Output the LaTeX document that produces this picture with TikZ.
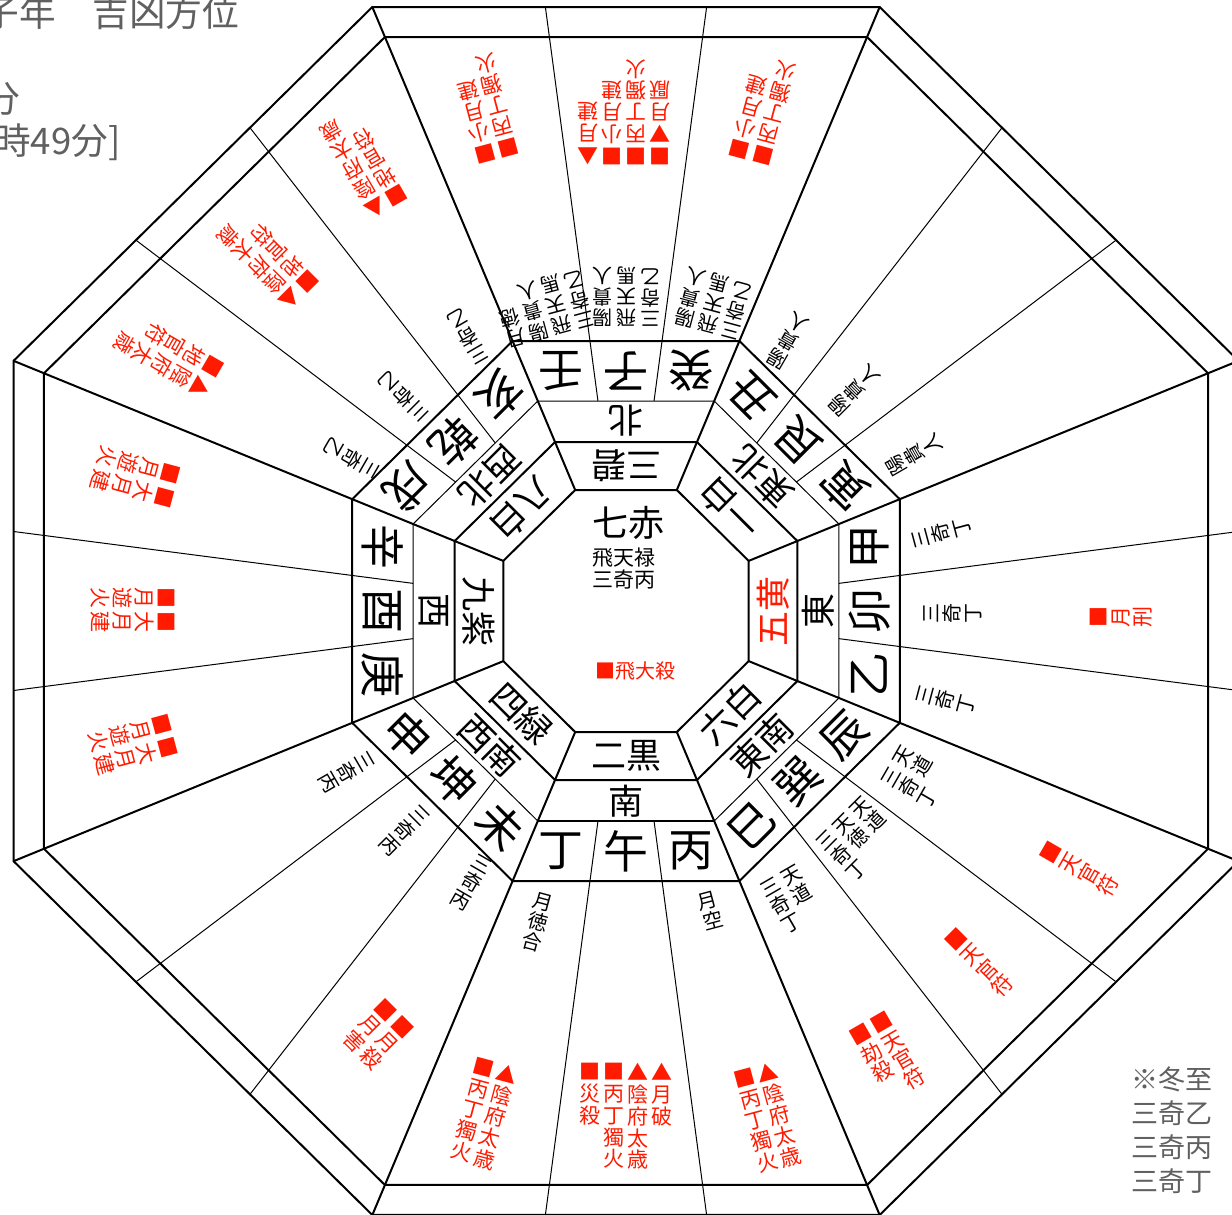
\documentclass[tikz,border=0pt]{standalone}
\usepackage{fontspec}
\setmainfont{Noto Sans CJK JP}
\definecolor{KyoRed}{HTML}{FF1A00}
\definecolor{SumiGray}{HTML}{606060}

\tikzset{
  futo/.style={line width=1pt},
  hoso/.style={line width=0.5pt},
  hoshi/.style={font=\fontsize{17.5}{18}\selectfont, inner sep=0pt},
  houi/.style={font=\fontsize{17.5}{18}\selectfont, inner sep=0pt},
  yama/.style={font=\fontsize{22.5}{23}\selectfont, inner sep=0pt},
  kichi/.style={font=\fontsize{10}{10.5}\selectfont, align=center, inner sep=0pt, anchor=north},
  kyo/.style={font=\fontsize{10.5}{10.9}\selectfont, align=center, inner sep=0pt, anchor=north, text=KyoRed},
  usuji/.style={text=SumiGray, inner sep=0pt},
}

% 縦書きの組: 列は右から左へ
\newcommand\kumi[5]{%
  \begin{scope}[shift={#2}, rotate=#3, transform shape]
    \foreach \koma [count=\nn] in {#5}
      \node[#4] (#1-\nn) at ({-24*(\nn-1)},-10) {\koma};
  \end{scope}}

\begin{document}
\begin{tikzpicture}[x=0.5pt, y=-0.5pt]
  \useasboundingbox (0,0) rectangle (1232,1215);
  \clip (0,0) rectangle (1232,1215);

  % 八角形の盤
  \begin{scope}[shift={(626,611)}, x=0.507pt, y=0.5pt]
    \foreach \r/\lw in {121/futo, 169/futo, 210/hoso, 270/futo, 574/futo, 604/futo}
      \draw[\lw] (22.5:{\r*1.0824}) \foreach \k in {1,...,7} {-- ({22.5+45*\k}:{\r*1.0824})} -- cycle;
    \draw[futo] (-112.5:{210*1.0824}) -- (-67.5:{210*1.0824});
    \foreach \a in {22.5,67.5,...,337.5}
      \draw[futo] (\a:{121*1.0824}) -- (\a:{604*1.0824});
    \foreach \c in {0,45,...,315}
      \foreach \d in {-7.5,7.5}
        \draw[hoso] ({\c+\d}:{210/cos(7.5)}) -- ({\c+\d}:{604/cos(7.5)});

    % 九星
    \foreach \ang/\moji [count=\nn] in {-90/二黒, -45/六白, 45/一白, 90/三碧, 135/八白, 180/九紫, 225/四緑}
      \node[hoshi, rotate=\ang+90] (hoshi-\nn) at (\ang:145) {\moji};
    \node[hoshi, rotate=90, text=KyoRed] (hoshi-go) at (0:145) {五黄};
    % 八方位
    \foreach \ang/\moji [count=\nn] in {-90/南, -45/東南, 0/東, 45/東北, 90/北, 135/西北, 180/西, 225/西南}
      \node[houi, rotate=\ang+90] (houi-\nn) at (\ang:190) {\moji};
    % 二十四山
    \foreach \ang/\ma/\mb/\mc [count=\nn] in {-90/丙/午/丁, -45/辰/巽/巳, 0/甲/卯/乙, 45/丑/艮/寅,
        90/壬/子/癸, 135/戌/乾/亥, 180/庚/酉/辛, 225/未/坤/申} {
      \node[yama, rotate=\ang+90] (yama-\nn-a) at ({\ang+15}:{240/cos(15)}) {\ma};
      \node[yama, rotate=\ang+90] (yama-\nn-b) at (\ang:240) {\mb};
      \node[yama, rotate=\ang+90] (yama-\nn-c) at ({\ang-15}:{240/cos(15)}) {\mc};
    }
  \end{scope}

  % 中宮
  \node[font=\fontsize{18}{18}\selectfont, anchor=west, inner sep=0pt] (nanaseki) at (592,523) {七赤};
  \node[font=\fontsize{10.5}{12}\selectfont, anchor=west, inner sep=0pt] (hiten) at (592,558) {飛天禄};
  \node[font=\fontsize{10.5}{12}\selectfont, anchor=west, inner sep=0pt] (sanki) at (592,580) {三奇丙};
  \node[font=\fontsize{10}{12}\selectfont, text=KyoRed, inner sep=0pt] (hidai) at (635,671) {■飛大殺};

  % 南
  \kumi{hei}{(768,1073)}{15}{kyo}{{▲\\陰\\府\\太\\歳},{■\\丙\\丁\\獨\\火}}
  \kumi{go}{(662,1073)}{0}{kyo}{{▲\\月\\破},{▲\\陰\\府\\太\\歳},{■\\丙\\丁\\獨\\火},{■\\災\\殺}}
  \kumi{tei}{(507,1075)}{-15}{kyo}{{▲\\陰\\府\\太\\歳},{■\\丙\\丁\\獨\\火}}
  \kumi{hei2}{(708,902)}{15}{kichi}{{月\\空}}
  \kumi{tei2}{(543,903)}{-15}{kichi}{{月\\徳\\合}}
  % 南西
  \kumi{kon}{(402,1028)}{-45}{kyo}{{■\\月\\殺},{■\\月\\害}}
  \kumi{hitsuji2}{(481,866)}{-30}{kichi}{{三\\奇\\丙}}
  \kumi{kon2}{(418,817)}{-45}{kichi}{{三\\奇\\丙}}
  \kumi{saru2}{(363,763)}{-60}{kichi}{{三\\奇\\丙}}
  % 東南
  \kumi{tatsu2}{(905,757)}{60}{kichi}{{天\\道},{三\\奇\\丁}}
  \kumi{son2}{(862,808)}{45}{kichi}{{天\\道},{天\\徳},{三\\奇\\丁}}
  \kumi{mi2}{(792,877)}{30}{kichi}{{天\\道},{三\\奇\\丁}}
  \kumi{tatsu}{(1052,853)}{60}{kyo}{{■\\天\\官\\符}}
  \kumi{son}{(957,940)}{45}{kyo}{{■\\天\\官\\符}}
  \kumi{mi}{(882,1023)}{30}{kyo}{{■\\天\\官\\符},{■\\劫\\殺}}
  % 東
  \kumi{kinoe2}{(923,538)}{105}{kichi}{{三\\奇\\丁}}
  \kumi{u2}{(933,613)}{90}{kichi}{{三\\奇\\丁}}
  \kumi{kinoto2}{(927,695)}{75}{kichi}{{三\\奇\\丁}}
  \kumi{u}{(1100,617)}{90}{kyo}{{■\\月\\刑}}
  % 東北
  \kumi{ushi2}{(778,358)}{150}{kichi}{{陽\\貴\\人}}
  \kumi{gon2}{(840,405)}{135}{kichi}{{陽\\貴\\人}}
  \kumi{tora2}{(897,465)}{120}{kichi}{{陽\\貴\\人}}
  % 北
  \kumi{jin2}{(515,337)}{195}{kichi}{{月\\徳},{陽\\貴\\人},{飛\\天\\馬},{三\\奇\\乙}}
  \kumi{ne2}{(602,317)}{180}{kichi}{{陽\\貴\\人},{飛\\天\\馬},{三\\奇\\乙}}
  \kumi{ki2}{(685,317)}{165}{kichi}{{陽\\貴\\人},{飛\\天\\馬},{三\\奇\\乙}}
  \kumi{jin}{(485,153)}{195}{kyo}{{■\\小\\月\\建},{■\\丙\\丁\\獨\\火}}
  \kumi{ne}{(588,155)}{180}{kyo}{{▲\\月\\建},{■\\小\\月\\建},{■\\丙\\丁\\獨\\火},{■\\▼\\月\\厭}}
  \kumi{ki}{(740,148)}{165}{kyo}{{■\\小\\月\\建},{■\\丙\\丁\\獨\\火}}
  % 西北
  \kumi{inu2}{(368,468)}{240}{kichi}{{三\\奇\\乙}}
  \kumi{ken2}{(417,410)}{225}{kichi}{{三\\奇\\乙}}
  \kumi{i2}{(477,353)}{210}{kichi}{{三\\奇\\乙}}
  \kumi{inu}{(200,387)}{240}{kyo}{{▲\\陰\\府\\太\\歳},{■\\地\\官\\符}}
  \kumi{ken}{(290,298)}{225}{kyo}{{▲\\陰\\府\\太\\歳},{■\\地\\官\\符}}
  \kumi{i}{(375,207)}{210}{kyo}{{▲\\陰\\府\\太\\歳},{■\\地\\官\\符}}
  % 西
  \kumi{kanoto}{(163,497)}{255}{kyo}{{■\\大\\月\\建},{■\\月\\遊\\火}}
  \kumi{tori}{(165,622)}{270}{kyo}{{■\\大\\月\\建},{■\\月\\遊\\火}}
  \kumi{kanoe}{(167,748)}{285}{kyo}{{■\\大\\月\\建},{■\\月\\遊\\火}}

  % 見出しと注記
  \node[usuji, font=\fontsize{18.3}{20}\selectfont, anchor=west] (title) at (-17.5,13) {子年　吉凶方位};
  \node[usuji, font=\fontsize{18.3}{20}\selectfont] (fun) at (2,99) {分};
  \node[usuji, font=\fontsize{18.3}{20}\selectfont, anchor=west] (jikoku) at (-6,142) {時49分]};
  \node[usuji, font=\fontsize{13.5}{17}\selectfont, anchor=north west, align=left] (chuki) at (1131,1066)
    {※冬至\\三奇乙\\三奇丙\\三奇丁};
\end{tikzpicture}
\end{document}
